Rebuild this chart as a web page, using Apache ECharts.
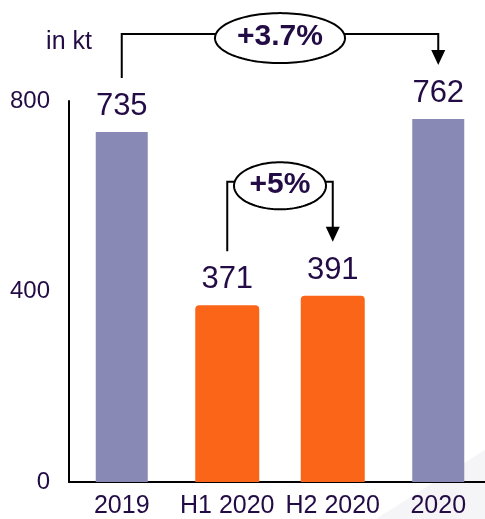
<!DOCTYPE html>
<html><head><meta charset="utf-8">
<script src="https://cdn.jsdelivr.net/npm/echarts@6/dist/echarts.min.js"></script>
<style>html,body{margin:0;padding:0;background:#fff;overflow:hidden}#c{width:491px;height:519px}</style>
</head><body><div id="c"></div>
<script>
const categories = ['2019', 'H1 2020', 'H2 2020', '2020'];
const annualValues = [735, null, null, 762];
const halfYearValues = [null, 371, 391, null];
const yTicks = [0, 400, 800];
const unitLabel = 'in kt';
const changes = [
  { from: 0, to: 3, text: '+3.7%' },
  { from: 1, to: 2, text: '+5%' }
];

const TEXT = '#230c45';
const FONT = '"Liberation Sans", Arial, sans-serif';
const chart = echarts.init(document.getElementById('c'));

const option = {
  animation: false,
  grid: { left: 69, top: 101, right: 0, bottom: 35, containLabel: false },
  xAxis: [
    { type: 'category', data: categories,
      axisLine: { lineStyle: { color: '#000', width: 2 } },
      axisTick: { show: false },
      axisLabel: { color: TEXT, fontSize: 25, fontFamily: FONT, margin: 12, interval: 0 } },
    { type: 'category', data: categories, show: false }
  ],
  yAxis: {
    type: 'value', min: yTicks[0], max: yTicks[yTicks.length - 1], interval: 400,
    name: unitLabel, nameLocation: 'end', nameGap: 46,
    nameTextStyle: { color: TEXT, fontSize: 25, fontFamily: FONT },
    axisLine: { show: true, lineStyle: { color: '#000', width: 2 } },
    axisTick: { show: false },
    splitLine: { show: false },
    axisLabel: { color: TEXT, fontSize: 24, fontFamily: FONT, margin: 19 }
  },
  series: [
    { type: 'bar', xAxisIndex: 0, data: annualValues, barWidth: 52,
      itemStyle: { color: '#8889b4' },
      label: { show: true, position: 'top', distance: 10, color: TEXT, fontSize: 31, fontFamily: FONT } },
    { type: 'bar', xAxisIndex: 1, data: halfYearValues, barWidth: 64,
      itemStyle: { color: '#fa6518', borderRadius: [4, 4, 0, 0] },
      label: { show: true, position: 'top', distance: 10, color: TEXT, fontSize: 31, fontFamily: FONT } }
  ]
};
chart.setOption(option);

function valueAt(i) { return annualValues[i] != null ? annualValues[i] : halfYearValues[i]; }
function px(i) {
  const axis = annualValues[i] != null ? 0 : 1;
  return chart.convertToPixel({ xAxisIndex: axis, yAxisIndex: 0 }, [categories[i], valueAt(i)]);
}
function ellipsePoints(cx, cy, rx, ry) {
  const pts = [];
  for (let t = 0; t < 120; t++) {
    const a = t / 120 * Math.PI * 2;
    pts.push([cx + rx * Math.cos(a), cy + ry * Math.sin(a)]);
  }
  return pts;
}

// decoration layout (style, not data)
const bracketStyle = [
  { levelAbove: 31, rx: 65, ry: 25, font: 30 },
  { levelAbove: 60, rx: 46, ry: 23.5, font: 30 }
];
const GAP = 54;

const graphics = [
  { type: 'polygon', silent: true, z: -10,
    shape: { points: [[376, 519], [491, 446], [491, 519]] },
    style: { fill: '#f5f4f7' } }
];
changes.forEach((c, k) => {
  const s = bracketStyle[k];
  const a = px(c.from), b = px(c.to);
  const yStart = a[1] - GAP;
  const yTip = b[1] - GAP;
  const level = yTip - s.levelAbove;
  const cx = (a[0] + b[0]) / 2;
  graphics.push({ type: 'polyline', silent: true, z: 10,
    shape: { points: [[a[0], yStart], [a[0], level], [b[0], level], [b[0], yTip - 14]] },
    style: { stroke: '#000', lineWidth: 2, fill: null } });
  graphics.push({ type: 'polygon', silent: true, z: 10,
    shape: { points: [[b[0] - 7, yTip - 15], [b[0] + 7, yTip - 15], [b[0], yTip]] },
    style: { fill: '#000' } });
  graphics.push({ type: 'polygon', silent: true, z: 11,
    shape: { points: ellipsePoints(cx, level + 4, s.rx, s.ry) },
    style: { fill: '#fff', stroke: '#000', lineWidth: 2 } });
  graphics.push({ type: 'text', silent: true, z: 12,
    x: cx, y: level + 3,
    style: { text: c.text, fill: TEXT, font: 'bold ' + s.font + 'px ' + FONT,
      textAlign: 'center', textVerticalAlign: 'middle' } });
});
chart.setOption({ graphic: graphics });
</script>
</body></html>
